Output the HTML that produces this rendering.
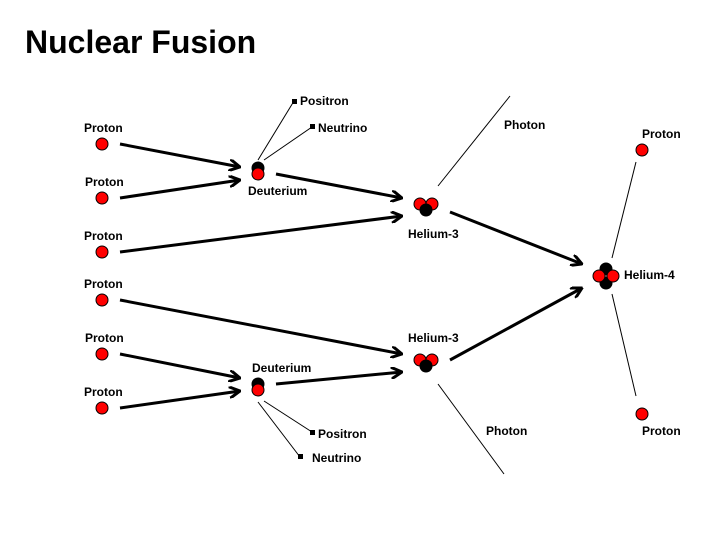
<!DOCTYPE html>
<html><head><style>body{margin:0;background:#fff}svg{display:block}text{font-family:"Liberation Sans",Arial,sans-serif;font-weight:bold;font-size:12px}</style></head><body>
<svg width="720" height="540" viewBox="0 0 720 540">
<defs><marker id="a" markerWidth="12" markerHeight="12" refX="11" refY="6" orient="auto" markerUnits="userSpaceOnUse"><path d="M0,0 L11,6 L0,12" fill="none" stroke="#000" stroke-width="3"/></marker></defs>
<text x="25" y="53" style="font-size:32px">Nuclear Fusion</text>
<g stroke="#000" stroke-width="3" marker-end="url(#a)">
<line x1="120" y1="144" x2="240" y2="167"/><line x1="120" y1="198" x2="240" y2="180"/>
<line x1="276" y1="174" x2="402" y2="198"/><line x1="120" y1="252" x2="402" y2="216"/>
<line x1="450" y1="212" x2="582" y2="264"/><line x1="120" y1="300" x2="402" y2="354"/>
<line x1="120" y1="354" x2="240" y2="378"/><line x1="120" y1="408" x2="240" y2="391"/>
<line x1="276" y1="384" x2="402" y2="372"/><line x1="450" y1="360" x2="582" y2="288"/>
</g>
<g stroke="#000" stroke-width="1">
<line x1="258" y1="160" x2="294" y2="101"/><line x1="264" y1="160" x2="312" y2="127"/>
<line x1="264" y1="401" x2="312" y2="432"/><line x1="258" y1="402" x2="300" y2="457"/>
<line x1="438" y1="186" x2="510" y2="96"/><line x1="438" y1="384" x2="504" y2="474"/>
<line x1="612" y1="258" x2="636" y2="162"/><line x1="612" y1="294" x2="636" y2="396"/>
</g>
<g fill="#000"><rect x="292" y="99" width="5" height="5"/><rect x="310" y="124" width="5" height="5"/><rect x="310" y="430" width="5" height="5"/><rect x="298" y="454" width="5" height="5"/></g>
<g stroke="#000" stroke-width="1">
<g fill="#f00"><circle cx="102" cy="144" r="6"/><circle cx="102" cy="198" r="6"/><circle cx="102" cy="252" r="6"/><circle cx="102" cy="300" r="6"/><circle cx="102" cy="354" r="6"/><circle cx="102" cy="408" r="6"/><circle cx="642" cy="150" r="6"/><circle cx="642" cy="414" r="6"/></g>
<circle cx="258" cy="168" r="6" fill="#000"/><circle cx="258" cy="174" r="6" fill="#f00"/>
<circle cx="258" cy="384" r="6" fill="#000"/><circle cx="258" cy="390" r="6" fill="#f00"/>
<circle cx="420" cy="204" r="6" fill="#f00"/><circle cx="432" cy="204" r="6" fill="#f00"/><circle cx="426" cy="210" r="6" fill="#000"/>
<circle cx="420" cy="360" r="6" fill="#f00"/><circle cx="432" cy="360" r="6" fill="#f00"/><circle cx="426" cy="366" r="6" fill="#000"/>
<circle cx="606" cy="269" r="6" fill="#000"/><circle cx="606" cy="283" r="6" fill="#000"/><circle cx="599" cy="276" r="6" fill="#f00"/><circle cx="613" cy="276" r="6" fill="#f00"/>
</g>
<text x="84" y="132">Proton</text><text x="85" y="186">Proton</text><text x="84" y="240">Proton</text><text x="84" y="288">Proton</text><text x="85" y="342">Proton</text><text x="84" y="396">Proton</text>
<text x="300" y="105">Positron</text><text x="318" y="132">Neutrino</text>
<text x="248" y="195">Deuterium</text><text x="252" y="372">Deuterium</text>
<text x="408" y="238">Helium-3</text><text x="408" y="342">Helium-3</text>
<text x="624" y="279">Helium-4</text>
<text x="318" y="438">Positron</text><text x="312" y="462">Neutrino</text>
<text x="504" y="129">Photon</text><text x="642" y="138">Proton</text>
<text x="486" y="435">Photon</text><text x="642" y="435">Proton</text>
</svg></body></html>
